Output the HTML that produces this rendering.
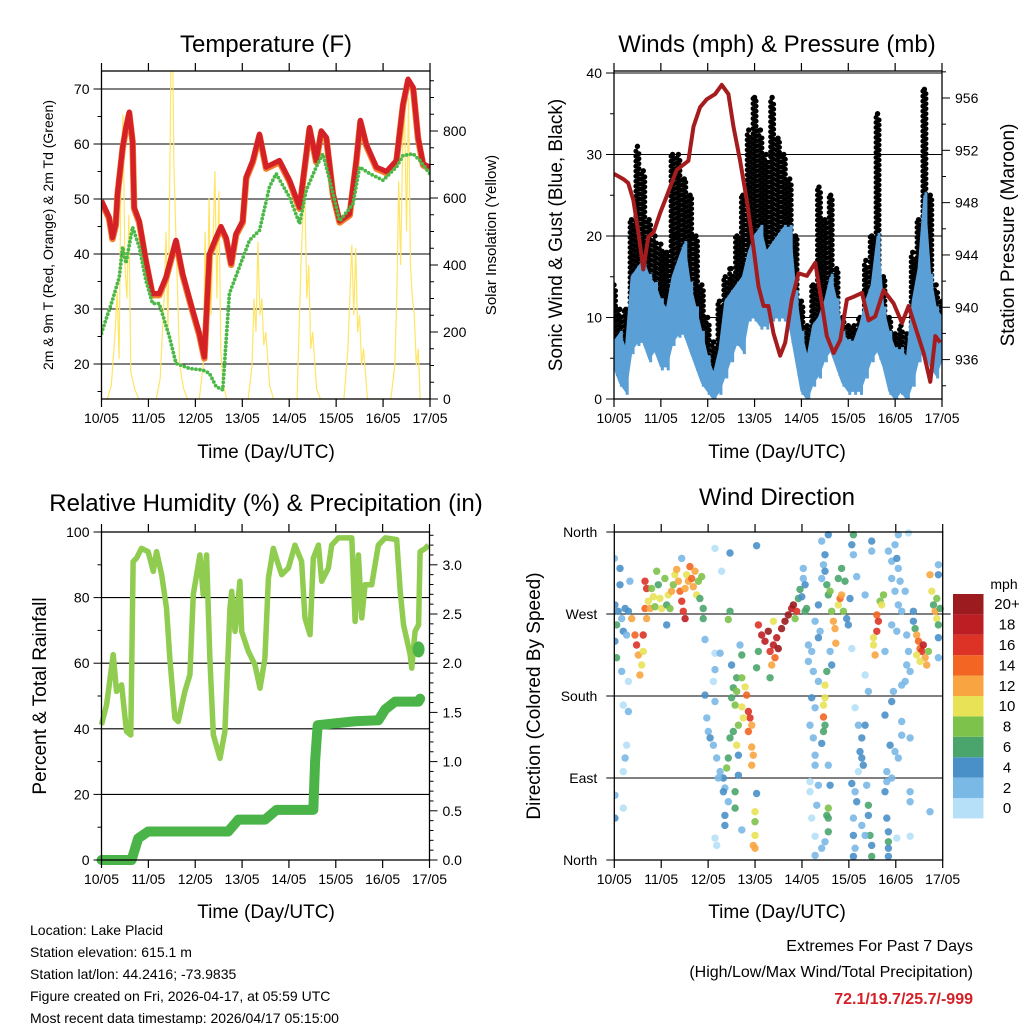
<!DOCTYPE html>
<html><head><meta charset="utf-8"><title>Lake Placid station meteogram</title>
<style>
html,body{margin:0;padding:0;background:#fff;}
svg{display:block;font-family:"Liberation Sans",Arial,sans-serif;}
</style></head>
<body>
<svg id="chart" width="1024" height="1024" viewBox="0 0 1024 1024" xmlns="http://www.w3.org/2000/svg">
<rect x="0" y="0" width="1024" height="1024" fill="#fff"/>
<text x="266" y="52" font-size="24" text-anchor="middle">Temperature (F)</text>
<text x="777" y="52" font-size="24" text-anchor="middle">Winds (mph) &amp; Pressure (mb)</text>
<text x="266" y="511" font-size="24" text-anchor="middle">Relative Humidity (%) &amp; Precipitation (in)</text>
<text x="777" y="505" font-size="24" text-anchor="middle">Wind Direction</text>
<text x="266" y="458" font-size="19" text-anchor="middle">Time (Day/UTC)</text>
<text x="777" y="458" font-size="19" text-anchor="middle">Time (Day/UTC)</text>
<text x="266" y="918" font-size="19" text-anchor="middle">Time (Day/UTC)</text>
<text x="777" y="918" font-size="19" text-anchor="middle">Time (Day/UTC)</text>
<text transform="translate(53,235) rotate(-90)" font-size="14" text-anchor="middle">2m &amp; 9m T (Red, Orange) &amp; 2m Td (Green)</text>
<text transform="translate(496,235) rotate(-90)" font-size="15" text-anchor="middle">Solar Insolation (Yellow)</text>
<text transform="translate(562,235) rotate(-90)" font-size="19" text-anchor="middle">Sonic Wind &amp; Gust (Blue, Black)</text>
<text transform="translate(1014,235) rotate(-90)" font-size="19" text-anchor="middle">Station Pressure (Maroon)</text>
<text transform="translate(46,696) rotate(-90)" font-size="19" text-anchor="middle">Percent &amp; Total Rainfall</text>
<text transform="translate(540,696) rotate(-90)" font-size="19" text-anchor="middle">Direction (Colored By Speed)</text>
<g font-size="14">
<text x="30" y="935">Location: Lake Placid</text>
<text x="30" y="957">Station elevation: 615.1 m</text>
<text x="30" y="979">Station lat/lon: 44.2416; -73.9835</text>
<text x="30" y="1001">Figure created on Fri, 2026-04-17, at 05:59 UTC</text>
<text x="30" y="1023">Most recent data timestamp: 2026/04/17 05:15:00</text>
</g>
<text x="973" y="951" font-size="16" text-anchor="end">Extremes For Past 7 Days</text>
<text x="973" y="977" font-size="16" text-anchor="end">(High/Low/Max Wind/Total Precipitation)</text>
<text x="973" y="1004" font-size="16" font-weight="bold" fill="#d42027" text-anchor="end">72.1/19.7/25.7/-999</text>
</svg>
<script>
// ---------- data ----------
const dayLabels=["10/05","11/05","12/05","13/05","14/05","15/05","16/05","17/05"];
const tempTicks=[20,30,40,50,60,70];
const solarTicks=[0,200,400,600,800];
const windTicks=[0,10,20,30,40];
const pressTicks=[936,940,944,948,952,956];
const rhTicks=[0,20,40,60,80,100];
const rainTicks=["0.0","0.5","1.0","1.5","2.0","2.5","3.0"];
const dirTicks=["North","East","South","West","North"];

const tempHours=[0,3.9,5.6,7.3,8.2,10.8,12.5,14.2,15.9,16.7,19.3,22.7,26.1,29.5,33,38.1,41.5,46.6,50,52.6,55.2,58.6,61.1,63.7,66.3,68.8,72.2,74,77.4,80.8,84.2,87.6,91,96.2,101.3,106.4,109.8,112.4,115,118.4,121.8,126.9,130.3,132.4,135.4,140.6,145.7,150.8,154.2,156.8,159.4,161.9,164.5,167.9];
const tempValues=[49.7,46.7,43,45.5,51,59.4,63,65.8,60.6,48.5,46,38.9,32.8,32.8,35.8,42.5,36.4,29.8,25.6,21.3,40,43,45,43,38.3,43.7,46,54,57,61.8,55.8,56.4,57,53.4,48.5,63,57,62.4,61.2,51,46,47.3,57,64.3,60,55.8,55,57,67.3,71.8,70.3,61.2,56.4,55.8];
const dewHours=[0,2.2,5.6,9.1,10.8,12.5,15.9,19.3,22.7,26.1,29.5,34.7,38.1,44.9,51.8,55.2,58.6,62,65.4,70.5,75.7,80.8,85.9,89.3,96.2,101.3,104.7,109.8,113.2,116.7,121.8,128.6,132,137.2,144,150.8,154.2,159.4,162.8,167.9];
const dewValues=[25.6,28,31.6,35.8,41.3,38.3,44.9,41.3,35.2,31,31,25,20.1,19.2,18.9,18.3,15.9,15.3,32.8,37.6,42.5,44.3,52.2,54.6,50.3,45.5,51.6,55.8,58.2,53.4,46,49.1,55.8,54.6,53.4,55.8,57.9,58.2,57,54.6];
const solarHours=[0,3,5,7,8,9,10,11,12,13,14,15,17,19,28,30,32,33,34,35,35.5,36,36.5,37,38,39,40,42,44,50,52,53,54,55,56,58,59,60,61,62,64,75,77,78,79,80,81,82,83,84,86,88,100,101,102,103,104,105,106,107,108,110,112,124,126,127,128,129,130,131,132,133,134,136,148,150,151,152,153,154,155,156,157,158,159,160,161,162,163,168];
const solarValues=[0,0,40,200,320,120,700,850,400,300,550,80,30,0,0,60,300,500,200,700,1000,1000,1000,700,500,300,100,30,0,0,100,500,200,600,250,680,300,620,150,50,0,0,100,300,200,470,250,300,160,200,40,0,0,200,400,550,620,300,400,150,200,30,0,0,150,300,460,250,450,200,250,100,150,0,0,100,300,650,400,750,860,500,900,400,300,250,100,150,0,0];

const windLo=[4,2,1,6,7,7,5,6,4,4,7,8,8,6,4,2,1,0,1,3,5,7,6,10,10,9,9,10,10,10,9,5,1,0,2,3,5,6,4,2,1,1,1,3,5,6,4,1,0,1,0,2,5,6,4,3,5];
const windHi=[7,8,6,15,16,17,15,14,12,11,15,17,19,14,11,8,5,3,6,12,13,14,15,18,20,21,18,19,20,21,21,13,8,5,9,10,12,15,12,8,7,7,9,12,14,20,11,8,6,6,5,12,16,25,15,11,10];
const gustLo=[5,3,4,10,12,11,10,9,8,8,12,13,14,12,8,5,2,1,3,6,8,10,10,14,16,17,14,15,14,15,10,7,3,2,4,6,9,10,6,3,2,2,3,6,7,10,5,3,1,3,2,7,10,12,10,6,7];
const gustHi=[14,11,11,22,31,28,22,20,19,18,30,30,27,25,20,14,10,7,12,15,16,20,25,33,37,33,30,37,32,30,27,20,12,9,14,26,22,25,16,10,9,9,10,17,20,35,15,10,8,9,8,18,22,38,25,14,12];
const pressHours=[0,4.8,7.3,9.9,12.5,15,17.6,20.2,23.6,27,32.1,38.1,40.7,44.1,47.5,51.8,55.2,58.6,61.2,64.6,68,71.4,74,76.6,79.1,81.7,85.1,87.7,91.1,94.5,98.8,103.1,105.6,109,112.5,115.9,119.3,122.7,127,130.4,133.8,138.1,143.2,147.5,150.9,154.3,158.6,162,164.6,167.1];
const pressValues=[950.2,949.8,949.5,948.2,945.7,942.9,945.4,945.7,947.2,948.5,950.5,951.2,953.8,955.3,955.9,956.3,957,956.3,953.8,951.2,948.2,944.6,941.6,940.1,940.1,938,936.3,937.3,940.6,942.6,942.4,943.4,941.1,937.8,936.5,937.5,940.6,940.8,941.1,939,939.3,941.3,940.3,938.8,940.1,938.5,936.5,934.3,937.8,937.3];

const rhHours=[0,2.6,6,7.7,10.3,12.8,15,16.2,17.9,20.5,23.9,26.5,28.2,30.8,33.3,35,37.6,39.3,42.7,45.3,47,50.4,52.1,53.8,55.5,57.3,60.7,63.2,65.8,66.7,68.4,70.9,71.8,75.2,78.6,81.2,83.7,85.5,88,90.6,92.3,95.7,99.1,102.5,104.2,106.8,108.5,111.1,112.8,116.2,117.9,121.3,128.2,129.9,131.6,133.3,135,138.4,141.8,145.3,151.2,153,154.7,158.1,158.9,160.6,162.4,163.2,165.8,167.5];
const rhValues=[41.2,47.3,62.6,51.4,53.4,39.2,38.1,91,92,95,94,88,94,87,76.8,61.5,43.2,42.2,51.4,56.5,80.9,93,80.9,93,61.5,38.1,31,39.2,76.8,81.9,69.7,85,69.7,63.6,59.5,52.4,61.5,86,95,90,87,89,96,91,73.8,68.7,92,96,85,89,96,98.2,98.2,72.7,93,73.8,83.9,83.9,96,98.2,97.7,81.9,71.7,62.6,58.5,69.7,71.7,94,95,96];
const rainHours=[0,15.4,18.8,23.9,64.9,70.1,83.7,89.7,108.5,109.4,110.7,129.9,141.8,145.3,150.4,162.4,163.2];
const rainValues=[0,0,0.22,0.29,0.29,0.41,0.41,0.51,0.51,1.0,1.37,1.41,1.42,1.53,1.61,1.61,1.64];
const rainExtraHour=[162.4];
const rainExtraValue=[2.14];

const dirHours=[0,2.9,2.9,0.3,2,1.2,3.8,5.5,7.2,8,0.3,1.2,3.8,4.6,6.3,7.2,4.6,7.2,6.3,5.5,4.6,0.3,4.6,0.3,8.9,10.6,11.4,12.3,14,13.1,14.8,14.8,15.7,16.5,15.7,16.5,17.4,18.3,
19.1,20,20.8,21.7,22.5,23.4,24.2,25.9,26.8,27.6,28.5,29.3,30.2,31,31.9,32.8,33.6,34.5,35.3,36.2,36.2,37,37.9,38.7,39.6,40.4,41.3,42.1,43,43.8,44.7,45.5,45.5,26.8,46.4,34.5,
51.5,59.2,54.9,72.8,59.2,58.3,
51.5,54.1,51.5,50.7,60,64.3,65.2,62.6,65.2,60.9,62.6,66.9,60,61.8,65.2,67.7,68.6,69.4,70.3,68.6,66,63.5,60.9,59.2,62.6,63.5,70.3,71.1,70.3,58.3,57.5,55.8,56.6,58.3,56.6,47.3,48.1,49,50.7,52.4,54.1,53.2,55.8,56.6,51.5,52.4,46.4,51.5,61.8,61.8,63.5,65.2,72,72,72,71.1,72,72.8,
73.7,75.4,77.1,78.8,79.7,81.4,82.2,80.5,83.1,83.9,85.6,87.3,89,90.7,91.6,93.3,92.5,73.7,72.8,79.7,81.4,94.2,95,95.9,96.7,97.6,96.7,97.6,98.4,
99.3,101,99.3,101.8,104.4,102.7,104.4,105.3,104.4,106.1,107,106.1,107.8,109.5,107.8,108.7,109.5,110.4,111.2,112.1,112.9,113.3,114.6,115.5,116.3,117.2,114.6,116.3,118,118.9,120.6,121.5,122.3,122.3,124,121.5,119.7,110.4,111.2,108.7,107.8,107.8,107,107,107.8,107,106.1,102.7,101,100.1,101.8,102.7,102.7,100.1,100.1,104.4,109.5,110.4,109.5,108.7,109.5,109.5,107.8,102.7,101,103.6,106.1,102.7,
123.2,124.9,126.6,125.7,126.6,127.4,124.9,128.3,121.5,123.2,124,122.3,122.3,123.2,122.3,129.1,130,130,130.8,131.7,131.7,126.6,128.3,131.7,131.7,128.3,134.3,135.1,134.3,132.6,133.4,132.6,136,136.8,137.7,128.3,130,138.5,138.5,139.4,139.4,138.5,139.4,140.2,140.2,140.2,140.2,141.1,141.9,142.8,
140.2,141.9,143.6,144.5,141.9,145.3,146.2,143.6,145.3,141.9,144.5,147,148.8,149.6,150.5,149.6,151.3,148.8,147,145.3,150.5,144.5,147,147,151.3,151.3,151.3,151.3,141.9,145.3,143.6,153,153,153.9,154.7,155.6,156.4,157.3,158.1,159,156.4,154.7,159.8,160.7,161.5,162.4,163.3,164.1,165,165.8,165,166.7,165.8,165.8,165.8,165.8,161.5];
const dirDegrees=[331,320,302,280,273,258,265,276,273,306,240,222,207,251,247,196,170,163,126,112,97,71,57,46,265,247,236,225,214,203,247,229,276,265,306,298,284,276,
298,289,278,317,302,287,276,309,280,291,276,295,302,313,319,306,295,284,273,265,298,313,306,322,309,300,317,291,306,287,311,276,265,258,242,331,
342,337,317,345,273,264,
227,227,209,196,214,236,225,200,200,189,185,190,178,170,168,181,163,156,148,141,156,148,141,134,126,115,124,115,104,112,101,90,79,64,49,156,141,134,126,112,97,90,75,38,24,16,181,174,75,57,93,33,53,42,27,16,13,73,
258,247,240,251,229,236,222,214,244,232,254,262,269,276,280,273,265,229,211,200,262,287,297,289,309,302,320,273,276,
236,229,218,207,196,262,280,251,244,309,324,350,335,357,317,302,291,295,273,262,254,238,280,287,291,273,309,320,306,265,287,346,357,335,311,232,258,229,214,207,192,178,170,157,148,141,128,167,178,148,134,115,104,86,75,82,104,82,57,49,46,31,20,26,46,60,13,5,
167,148,134,119,112,104,97,148,84,75,64,46,27,13,4,82,60,49,27,16,4,38,27,350,339,291,269,262,251,236,225,244,284,280,291,203,185,229,159,97,86,75,46,31,20,13,4,126,174,185,
339,328,346,331,309,320,306,295,280,258,251,273,295,247,229,214,207,196,192,357,359,24,152,137,134,75,64,26,90,112,119,273,262,254,247,240,232,229,236,222,218,225,214,229,313,295,280,273,265,258,287,276,324,313,244,222,53];
const dirSpeeds=[3,4,4,5,4,6,3,4,5,3,4,6,2,4,3,1,1,2,1,2,1,3,1,4,13,14,16,12,10,12,17,11,14,13,16,16,10,12,
8,10,9,8,7,10,11,8,6,10,9,12,8,10,12,13,14,16,17,18,12,11,13,14,15,13,12,11,9,7,8,6,6,4,2,3,
1,4,1,4,6,9,
1,2,2,0,4,3,6,6,8,7,9,11,6,8,11,14,16,17,13,14,10,8,6,7,10,5,12,12,13,7,8,4,3,3,4,3,3,4,2,3,3,2,4,4,1,1,4,2,7,7,4,3,10,9,11,12,13,4,
16,18,19,20,17,19,15,13,18,20,21,22,20,18,20,17,9,7,6,6,11,7,6,5,3,4,3,6,7,
2,3,2,2,2,3,4,3,4,2,3,2,4,5,4,6,7,9,8,13,12,12,11,14,13,9,7,6,6,5,4,5,6,3,2,1,4,3,4,6,10,10,11,14,7,6,5,3,4,2,3,3,2,1,1,3,3,4,8,7,7,6,3,1,1,2,3,2,
1,3,4,4,4,4,1,4,4,3,4,3,4,3,4,3,6,5,6,4,6,2,3,4,3,3,15,17,16,11,12,10,9,10,8,1,2,2,4,3,3,4,4,4,6,4,4,4,4,2,
2,3,2,4,2,2,3,2,2,3,2,2,2,3,3,2,3,2,2,3,1,1,2,2,2,2,2,1,2,2,2,4,5,6,13,14,15,16,19,13,11,10,12,8,12,10,7,12,11,6,9,7,3,4,4,3,3];
const speedLevels=["0","2","4","6","8","10","12","14","16","18","20+"];
const speedColors=["#b6e0f7","#7ab8e6","#4a90c8","#4aa56d","#7dc24b","#e8e257","#f8a541","#f26522","#dd3327","#bd1e24","#9b1b1e"];

// ---------- helpers ----------
const NS="http://www.w3.org/2000/svg";
const svg=document.getElementById('chart');
function mk(parent,tag,attrs,name){
  const e=document.createElementNS(NS,tag);
  for(const k in attrs) e.setAttribute(k,attrs[k]);
  
  
  parent.appendChild(e);
  return e;
}
function txt(parent,x,y,s,anchor,size,name){
  const t=mk(parent,'text',{x:x,y:y,'font-size':size,'text-anchor':anchor},name);
  t.textContent=s;
  return t;
}
function pathFrom(xs,ys,fx,fy){
  let d='';
  for(let i=0;i<xs.length;i++) d+=(i?'L':'M')+fx(xs[i]).toFixed(2)+' '+fy(ys[i]).toFixed(2);
  return d;
}
function clip(id,x0,y0,x1,y1){
  let defs=svg.querySelector('defs');
  if(!defs){defs=mk(svg,'defs',{},'defs');}
  const c=mk(defs,'clipPath',{id:id},id);
  mk(c,'rect',{x:x0,y:y0,width:x1-x0,height:y1-y0},id+'-rect');
}
function xAxis(g,x0,x1,y0,y1,prefix){
  for(let d=0;d<dayLabels.length;d++){
    const x=x0+(x1-x0)*d/7;
    mk(g,'line',{x1:x,x2:x,y1:y1,y2:y1+8,stroke:'#000','stroke-width':1.2},prefix+'-x-tick');
    mk(g,'line',{x1:x,x2:x,y1:y0-8,y2:y0,stroke:'#000','stroke-width':1.2},prefix+'-x-top-tick');
    txt(g,x,y1+24,dayLabels[d],'middle',14,prefix+'-x-tick-label');
  }
}
function frame(g,x0,y0,x1,y1,prefix){
  mk(g,'rect',{x:x0,y:y0,width:x1-x0,height:y1-y0,fill:'none',stroke:'#000','stroke-width':1.3},prefix+'-frame');
}
function hgrid(g,x0,x1,y,prefix){
  mk(g,'line',{x1:x0,x2:x1,y1:y,y2:y,stroke:'#000','stroke-width':1.1},prefix+'-gridline');
}

// ---------- Panel 1: temperature ----------
(function(){
  const x0=101.5,x1=430,y0=71,y1=399;
  const X=h=>x0+h/168*(x1-x0);
  const YT=t=>364-(t-20)*5.5;
  const YS=s=>399-s*0.335;
  const g=mk(svg,'g',{},'temperature-panel');
  clip('c1',x0,y0,x1,y1);
  tempTicks.forEach(t=>{hgrid(g,x0,x1,YT(t),'temperature');});
  const data=mk(g,'g',{'clip-path':'url(#c1)'},'temperature-series');
  mk(data,'path',{d:pathFrom(solarHours,solarValues,X,YS),fill:'none',stroke:'#ffe566','stroke-width':1.2},'solar-line');
  mk(data,'path',{d:pathFrom(tempHours,tempValues,X,t=>YT(t)+1.5),fill:'none',stroke:'#f47d2a','stroke-width':6.5,'stroke-linejoin':'round'},'temp-9m-line');
  mk(data,'path',{d:pathFrom(tempHours,tempValues,X,YT),fill:'none',stroke:'#d42027','stroke-width':5.2,'stroke-linejoin':'round'},'temp-2m-line');
  mk(data,'path',{d:pathFrom(dewHours,dewValues,X,YT),fill:'none',stroke:'#4cb848','stroke-width':3.8,'stroke-dasharray':'0 4','stroke-linecap':'round'},'dewpoint-line');
  frame(g,x0,y0,x1,y1,'temperature');
  xAxis(g,x0,x1,y0,y1,'temperature');
  for(let t=15;t<=70;t+=5){mk(g,'line',{x1:x0-(t%10?4:8),x2:x0,y1:YT(t),y2:YT(t),stroke:'#000','stroke-width':1},'temperature-y-tick');}
  tempTicks.forEach(t=>txt(g,x0-12,YT(t)+5,String(t),'end',14,'temperature-y-tick-label'));
  for(let s=0;s<=950;s+=50){mk(g,'line',{x1:x1,x2:x1+(s%200?4:8),y1:YS(s),y2:YS(s),stroke:'#000','stroke-width':1},'solar-y-tick');}
  solarTicks.forEach(s=>txt(g,x1+13,YS(s)+5,String(s),'start',14,'solar-y-tick-label'));
})();

// ---------- Panel 2: winds & pressure ----------
(function(){
  const x0=614,x1=942,y0=71,y1=399;
  const X=h=>x0+h/168*(x1-x0);
  const YW=w=>399-w*8.15;
  const YP=p=>98+(956-p)*13.08;
  const g=mk(svg,'g',{},'winds-panel');
  clip('c2',x0,y0,x1,y1);
  [10,20,30,40].forEach(w=>hgrid(g,x0,x1,YW(w),'winds'));
  const data=mk(g,'g',{'clip-path':'url(#c2)'},'winds-series');
  for(let i=0;i<gustLo.length;i++){
    const x=X(i*3);
    mk(data,'line',{x1:x-1.5,x2:x-1.5,y1:YW(gustLo[i]),y2:YW(gustHi[i]),stroke:'#000','stroke-width':5,'stroke-linecap':'round','stroke-dasharray':'0 5'},'gust-dots');
    mk(data,'line',{x1:x+1.5,x2:x+1.5,y1:YW(gustLo[i])-2.5,y2:YW(gustHi[i])+3,stroke:'#000','stroke-width':5,'stroke-linecap':'round','stroke-dasharray':'0 5'},'gust-dots-offset');
    mk(data,'circle',{cx:x,cy:YW(gustHi[i]),r:2.7,fill:'#000'},'gust-max-dot');
    mk(data,'circle',{cx:x,cy:YW(gustLo[i]),r:2.7,fill:'#000'},'gust-min-dot');
  }
  let pts=[];
  for(let i=0;i<windLo.length;i++) pts.push(X(i*3).toFixed(1)+','+YW(windHi[i]).toFixed(1));
  for(let i=windLo.length-1;i>=0;i--) pts.push(X(i*3).toFixed(1)+','+YW(windLo[i]).toFixed(1));
  mk(data,'polygon',{points:pts.join(' '),fill:'#5a9fd6',stroke:'#5a9fd6','stroke-width':2},'wind-speed-band');
  for(let i=0;i<windLo.length;i++){
    const x=X(i*3);
    mk(data,'line',{x1:x+1.5,x2:x+1.5,y1:YW(windLo[i])+4,y2:YW(windHi[i])-3,stroke:'#5a9fd6','stroke-width':3},'wind-speed-spike');
  }
  mk(data,'path',{d:pathFrom(pressHours,pressValues,X,YP),fill:'none',stroke:'#a51c1e','stroke-width':4,'stroke-linejoin':'round'},'pressure-line');
  frame(g,x0,y0,x1,y1,'winds');
  mk(g,'line',{x1:x0,x2:x1,y1:y0+2,y2:y0+2,stroke:'#000','stroke-width':1},'winds-top-line');
  xAxis(g,x0,x1,y0,y1,'winds');
  for(let w=0;w<=40;w+=5){mk(g,'line',{x1:x0-(w%10?4:8),x2:x0,y1:YW(w),y2:YW(w),stroke:'#000','stroke-width':1},'wind-y-tick');}
  windTicks.forEach(w=>txt(g,x0-12,YW(w)+5,String(w),'end',14,'wind-y-tick-label'));
  for(let p=934;p<=958;p+=2){mk(g,'line',{x1:x1,x2:x1+(p%4?4:8),y1:YP(p),y2:YP(p),stroke:'#000','stroke-width':1},'pressure-y-tick');}
  pressTicks.forEach(p=>txt(g,x1+13,YP(p)+5,String(p),'start',14,'pressure-y-tick-label'));
})();

// ---------- Panel 3: RH & precipitation ----------
(function(){
  const x0=101.5,x1=429.5,y0=532,y1=860;
  const X=h=>x0+h/168*(x1-x0);
  const YR=r=>860-r*3.28;
  const YPr=v=>860-v*98.4;
  const g=mk(svg,'g',{},'humidity-panel');
  clip('c3',x0-8,y0,x1+8,y1+8);
  [20,40,60,80].forEach(r=>hgrid(g,x0,x1,YR(r),'humidity'));
  const data=mk(g,'g',{'clip-path':'url(#c3)'},'humidity-series');
  mk(data,'path',{d:pathFrom(rhHours,rhValues,X,YR),fill:'none',stroke:'#8fcc4f','stroke-width':5.5,'stroke-linejoin':'round'},'rh-line');
  mk(data,'path',{d:pathFrom(rainHours,rainValues,X,YPr),fill:'none',stroke:'#4bb449','stroke-width':10,'stroke-linejoin':'round','stroke-linecap':'round'},'rainfall-line');
  for(let i=0;i<rainExtraHour.length;i++){
    mk(data,'ellipse',{cx:X(rainExtraHour[i]),cy:YPr(rainExtraValue[i]),rx:6,ry:8,fill:'#4bb449'},'rainfall-point');
  }
  frame(g,x0,y0,x1,y1,'humidity');
  xAxis(g,x0,x1,y0,y1,'humidity');
  for(let r=0;r<=100;r+=10){mk(g,'line',{x1:x0-(r%20?4:8),x2:x0,y1:YR(r),y2:YR(r),stroke:'#000','stroke-width':1},'rh-y-tick');}
  rhTicks.forEach(r=>txt(g,x0-12,YR(r)+5,String(r),'end',14,'rh-y-tick-label'));
  for(let k=0;k<=33;k++){const v=k*0.1;mk(g,'line',{x1:x1,x2:x1+(k%5?4:8),y1:YPr(v),y2:YPr(v),stroke:'#000','stroke-width':1},'rain-y-tick');}
  rainTicks.forEach(s=>txt(g,x1+13,YPr(parseFloat(s))+5,s,'start',14,'rain-y-tick-label'));
})();

// ---------- Panel 4: wind direction ----------
(function(){
  const x0=614.3,x1=942.7,y0=532,y1=860;
  const X=h=>x0+h/168*(x1-x0);
  const YD=d=>860-d*328/360;
  const g=mk(svg,'g',{},'direction-panel');
  clip('c4',x0,y0-4,x1+4,y1+4);
  [90,180,270].forEach(d=>hgrid(g,x0,x1,YD(d),'direction'));
  const data=mk(g,'g',{'clip-path':'url(#c4)','fill-opacity':0.9},'direction-series');
  for(let i=0;i<dirHours.length;i++){
    const lvl=Math.min(10,Math.floor(dirSpeeds[i]/2));
    const c=mk(data,'circle',{cx:X(dirHours[i]).toFixed(1),cy:YD(dirDegrees[i]).toFixed(1),r:3.7,fill:speedColors[lvl]},'direction-point');
  }
  frame(g,x0,y0,x1,y1,'direction');
  mk(g,'line',{x1:x1,x2:x1+8,y1:YD(270),y2:YD(270),stroke:'#000','stroke-width':1},'direction-right-tick');
  xAxis(g,x0,x1,y0,y1,'direction');
  dirTicks.forEach((s,i)=>{
    const y=YD(i*90);
    mk(g,'line',{x1:x0-8,x2:x0,y1:y,y2:y,stroke:'#000','stroke-width':1},'direction-y-tick');
    txt(g,x0-17,y+5,s,'end',14,'direction-y-tick-label');
  });
  // colorbar
  const cb=mk(svg,'g',{},'speed-colorbar');
  txt(cb,1004,589,'mph','middle',14,'colorbar-title');
  const bx=953,bw=30.5,btop=594,bh=20.4;
  for(let i=0;i<speedColors.length;i++){
    const y=btop+(10-i)*bh;
    mk(cb,'rect',{x:bx,y:y,width:bw,height:bh,fill:speedColors[i]},'colorbar-box');
    txt(cb,1007,y+bh/2+5,speedLevels[i],'middle',15,'colorbar-label');
  }
})();
</script>
</body></html>
